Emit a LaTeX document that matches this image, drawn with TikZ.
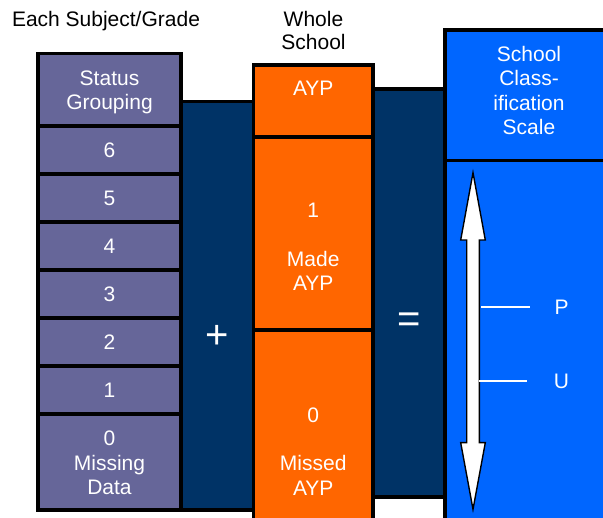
\documentclass[tikz,border=0pt]{standalone}
\usepackage{fontspec}
\setmainfont{Liberation Sans}
\definecolor{slate}{HTML}{666699}
\definecolor{navy}{HTML}{003366}
\definecolor{amber}{HTML}{FF6600}
\definecolor{azure}{HTML}{0066FF}
\begin{document}
\begin{tikzpicture}[x=1pt,y=-1pt,
  box/.style={draw=black, line width=3.6pt, inner sep=0pt, text=white, align=center,
              font=\fontsize{21}{24.5}\selectfont},
  lbl/.style={inner sep=0pt, text=white, align=center, font=\fontsize{21}{24.5}\selectfont},
  head/.style={inner sep=0pt, text=black, align=center, font=\fontsize{21}{23.5}\selectfont},
  op/.style={inner sep=0pt, text=white, font=\fontsize{40}{40}\selectfont},
  tick/.style={draw=white, line width=2pt}]
\useasboundingbox (0,0) rectangle (603,518);
\clip (0,0) rectangle (603,518);

% connecting bands behind the columns
\node[box, fill=navy, minimum width=72.5pt, minimum height=408.5pt] (band1) at (217.25,305.75) {};
\node[box, fill=navy, minimum width=72pt, minimum height=408pt] (band2) at (409,293) {};

% status grouping column
\node[box, fill=slate, minimum width=143pt, minimum height=72.5pt] (sg) at (109.5,89.75) {};
\node[lbl] (sgtxt) at (109.5,92.5) {Status\\Grouping};
\node[box, fill=slate, minimum width=143pt, minimum height=48pt] (g6) at (109.5,150) {6};
\node[box, fill=slate, minimum width=143pt, minimum height=48pt] (g5) at (109.5,198) {5};
\node[box, fill=slate, minimum width=143pt, minimum height=48pt] (g4) at (109.5,246) {4};
\node[box, fill=slate, minimum width=143pt, minimum height=48pt] (g3) at (109.5,294) {3};
\node[box, fill=slate, minimum width=143pt, minimum height=48pt] (g2) at (109.5,342) {2};
\node[box, fill=slate, minimum width=143pt, minimum height=48pt] (g1) at (109.5,390) {1};
\node[box, fill=slate, minimum width=143pt, minimum height=96pt] (g0) at (109.5,462) {};
\node[lbl] (g0txt) at (109.5,463) {0\\Missing\\Data};

% whole school AYP column
\node[box, fill=amber, minimum width=119.5pt, minimum height=72pt] (ayp) at (313.25,101) {};
\node[box, fill=amber, minimum width=119.5pt, minimum height=193pt] (made) at (313.25,233.5) {};
\node[box, fill=amber, minimum width=119.5pt, minimum height=210pt] (missed) at (313.25,435) {};
\node[lbl] (ayptxt) at (313.25,88.5) {AYP};
\node[lbl] (madenum) at (313.25,210) {1};
\node[lbl] (madetxt) at (313.25,271) {Made\\AYP};
\node[lbl] (missnum) at (313.25,415) {0};
\node[lbl] (misstxt) at (313.25,475.5) {Missed\\AYP};

% classification scale column
\node[box, fill=azure, minimum width=195pt, minimum height=130.5pt] (scalehd) at (542.5,95.25) {};
\node[box, fill=azure, minimum width=195pt, minimum height=399.5pt] (scale) at (542.5,360.25) {};
\node[lbl] (scaletxt) at (529,90.5) {School\\Class-\\ification\\Scale};

% double-headed scale arrow
\draw[fill=white, draw=black, line width=1.4pt, line join=miter]
  (473,172.7) -- (485.3,240) -- (479.3,240) -- (479.3,442.7) -- (485.3,442.7)
  -- (473,509.3) -- (460.7,442.7) -- (466.7,442.7) -- (466.7,240) -- (460.7,240) -- cycle;

% scale marks
\coordinate (p0) at (481,306.7);
\coordinate (p1) at (530,306.7);
\coordinate (u0) at (479,381);
\coordinate (u1) at (527,381);
\draw[tick] (p0) -- (p1);
\draw[tick] (u0) -- (u1);
\node[lbl] (ptxt) at (561.5,307) {P};
\node[lbl] (utxt) at (561.5,381) {U};

% operators
\node[op] (plus) at (217,336.5) {+};
\node[op] (equals) at (409,323) {=};

% headings
\node[head, anchor=base] (hsubj) at (106,26.5) {Each Subject/Grade};
\node[head] (hschool) at (313.5,30.7) {Whole\\School};
\end{tikzpicture}
\end{document}
